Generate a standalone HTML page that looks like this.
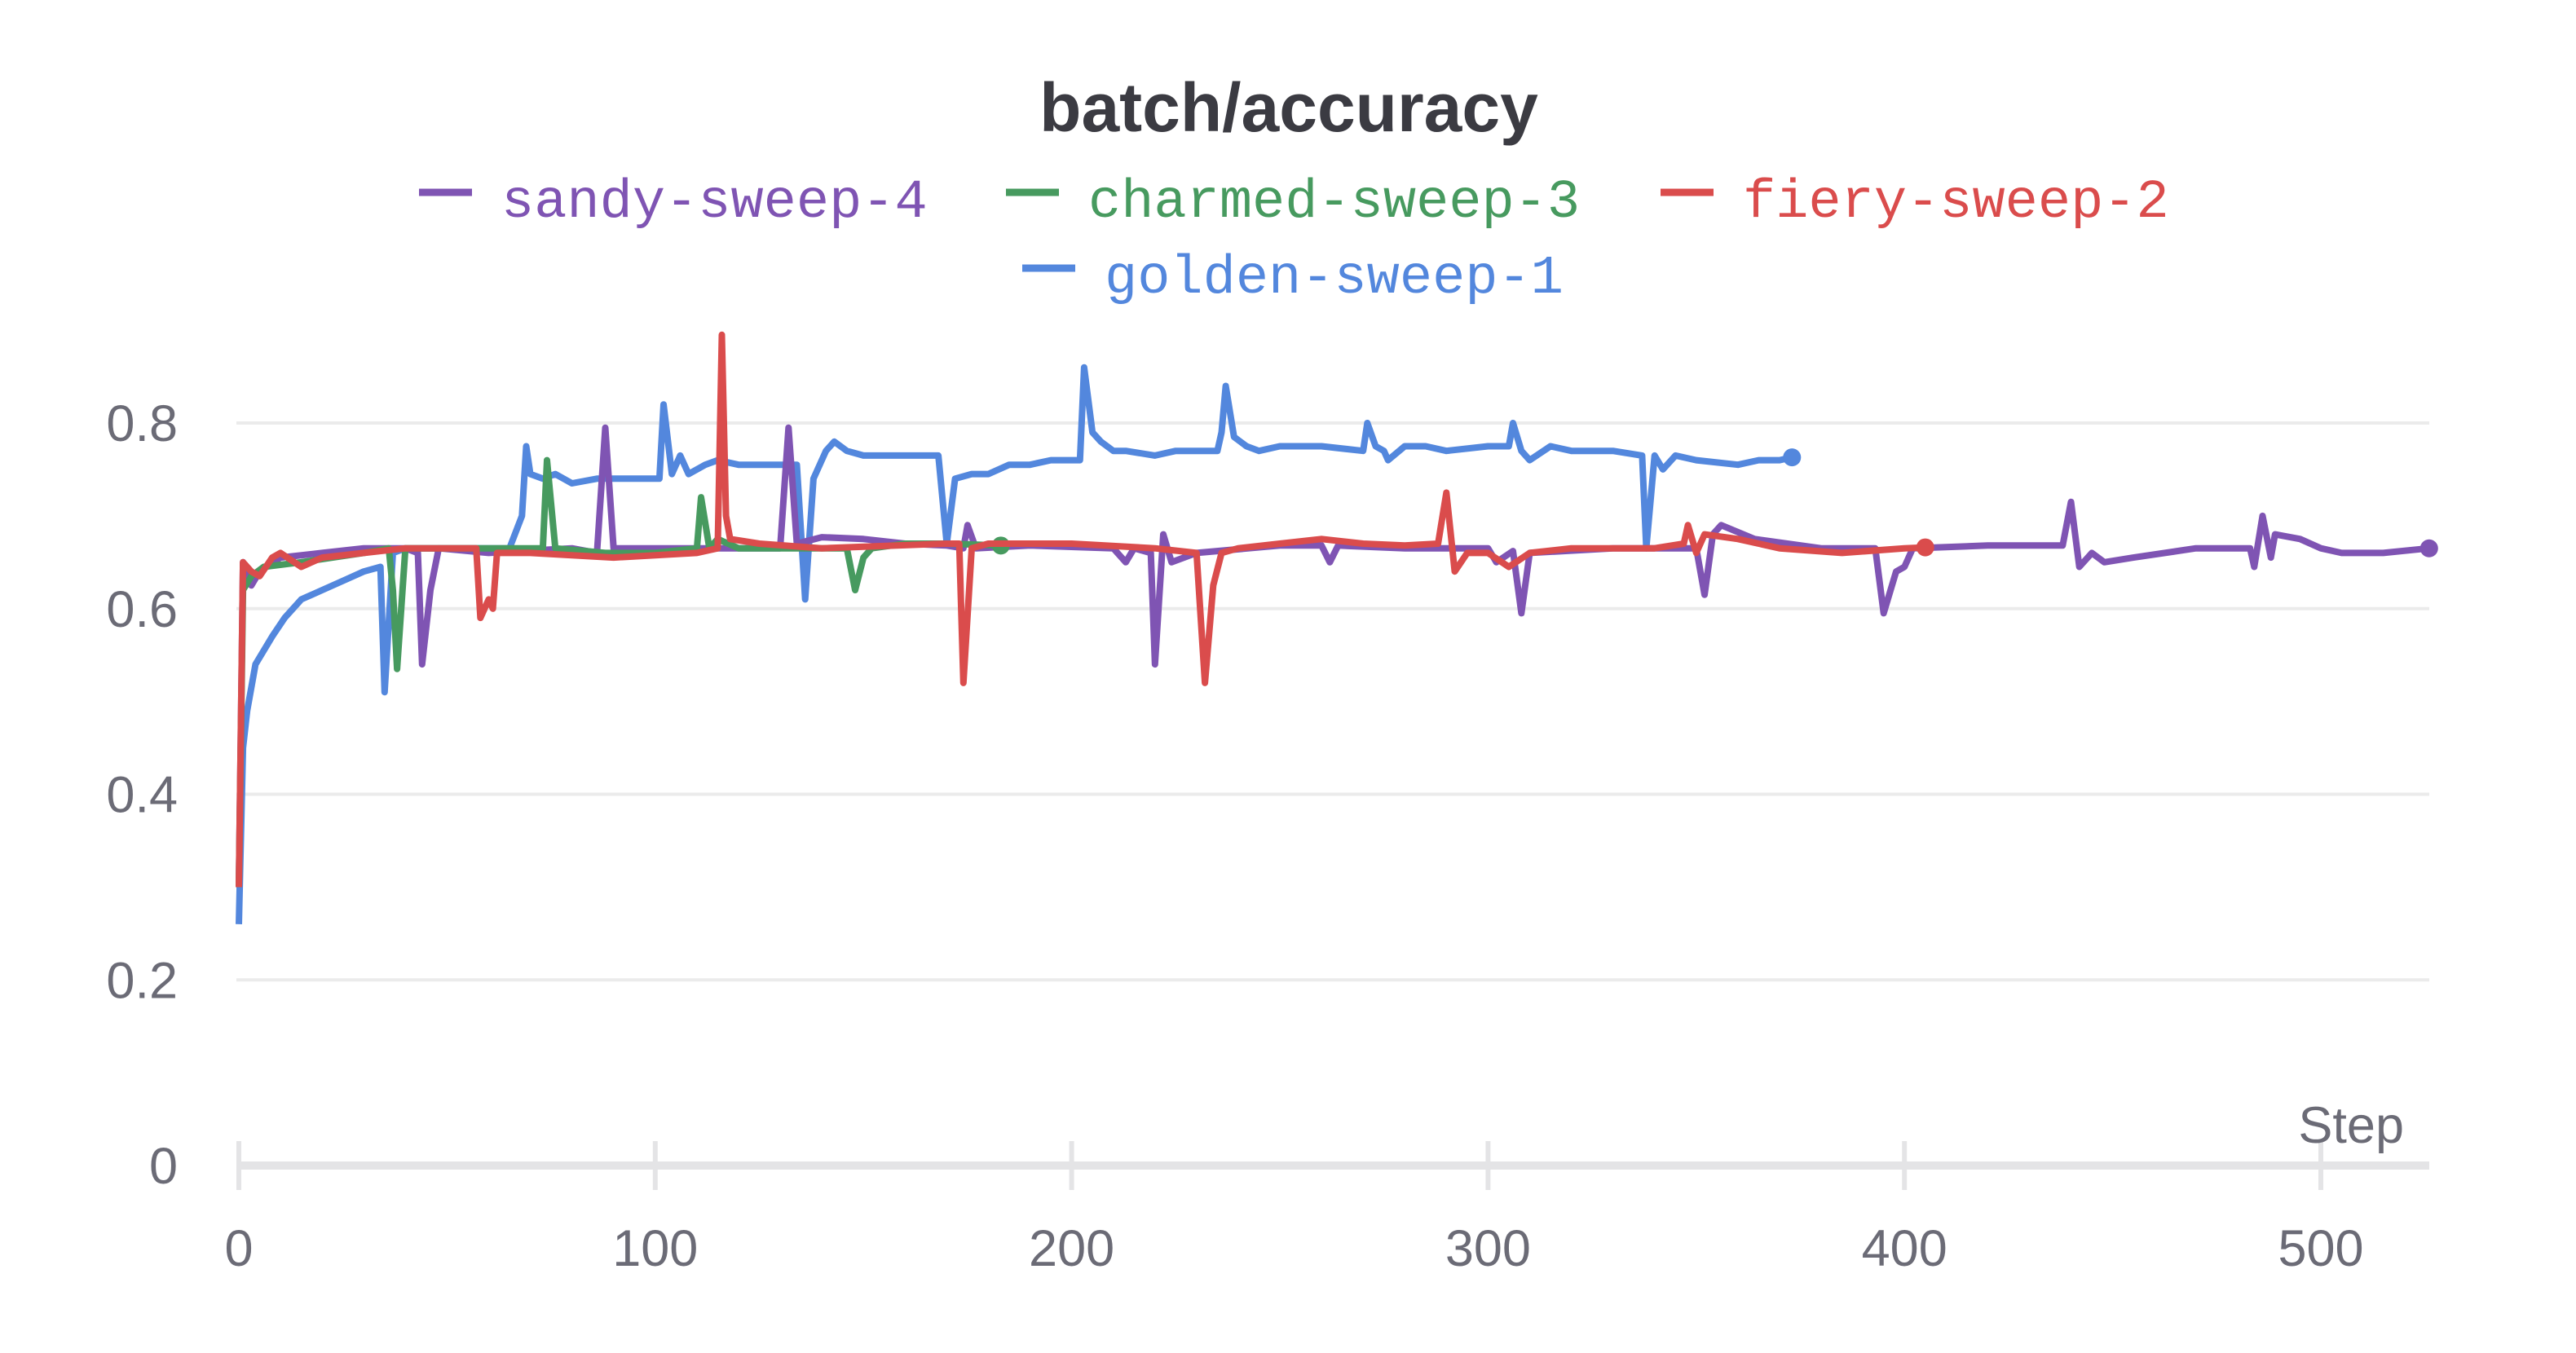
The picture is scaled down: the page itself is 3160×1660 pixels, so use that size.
<!DOCTYPE html>
<html><head><meta charset="utf-8"><style>
html,body{margin:0;padding:0;background:#fff;}
svg{display:block;}
text{font-family:"Liberation Sans",sans-serif;}
</style></head><body>
<svg id="chart" width="3160" height="1660" viewBox="0 0 3160 1660" xmlns="http://www.w3.org/2000/svg">
<text x="1581" y="161" text-anchor="middle" font-size="84" font-weight="bold" fill="#3b3b42">batch/accuracy</text>
<g font-family="Liberation Mono, monospace" font-size="67">
 <g><line x1="514" y1="236" x2="579" y2="236" stroke="#7f54b3" stroke-width="9"/><text x="615" y="266" fill="#7f54b3" style="font-family:'Liberation Mono',monospace">sandy-sweep-4</text></g>
 <g><line x1="1234" y1="236" x2="1299" y2="236" stroke="#479a5f" stroke-width="9"/><text x="1335" y="266" fill="#479a5f" style="font-family:'Liberation Mono',monospace">charmed-sweep-3</text></g>
 <g><line x1="2037" y1="236" x2="2102" y2="236" stroke="#da4c4c" stroke-width="9"/><text x="2138" y="266" fill="#da4c4c" style="font-family:'Liberation Mono',monospace">fiery-sweep-2</text></g>
 <g><line x1="1254" y1="329" x2="1319" y2="329" stroke="#5387dd" stroke-width="9"/><text x="1355" y="359" fill="#5387dd" style="font-family:'Liberation Mono',monospace">golden-sweep-1</text></g>
</g>
<g id="grid"></g>
<g id="axes"></g>
<g id="series"></g>
</svg>
<script>
const yTicks=[0,0.2,0.4,0.6,0.8];
const yTickLabels=["0","0.2","0.4","0.6","0.8"];
const xTicks=[0,100,200,300,400,500];
const xTickLabels=["0","100","200","300","400","500"];
const sandySteps=[0,1,3,5,10,20,30,40,43,44,46,48,60,80,86,88,90,100,120,130,132,134,140,150,160,170,174,175,177,190,210,213,215,219,220,222,224,230,250,260,262,264,280,300,302,306,308,310,330,350,352,354,356,364,380,393,395,398,400,402,420,438,440,442,445,448,455,470,483,484,486,488,489,495,500,505,515,526];
const sandyVals=[0.3,0.65,0.625,0.64,0.655,0.66,0.665,0.665,0.66,0.54,0.62,0.665,0.66,0.665,0.66,0.795,0.665,0.665,0.665,0.665,0.795,0.67,0.677,0.675,0.67,0.668,0.665,0.69,0.665,0.668,0.665,0.65,0.665,0.66,0.54,0.68,0.65,0.66,0.668,0.668,0.65,0.668,0.665,0.665,0.65,0.662,0.595,0.66,0.665,0.665,0.615,0.68,0.69,0.675,0.665,0.665,0.595,0.64,0.645,0.665,0.668,0.668,0.715,0.645,0.66,0.65,0.655,0.665,0.665,0.645,0.70,0.655,0.68,0.675,0.665,0.66,0.66,0.665];
const charmedSteps=[0,1,3,6,15,30,36,37,38,40,65,73,74,76,88,100,110,111,113,115,120,146,148,150,152,160,170,183];
const charmedVals=[0.3,0.62,0.635,0.645,0.65,0.66,0.665,0.62,0.535,0.665,0.665,0.665,0.76,0.665,0.66,0.66,0.665,0.72,0.665,0.675,0.665,0.665,0.62,0.655,0.665,0.67,0.67,0.668];
const fierySteps=[0,1,3,5,8,10,15,20,30,40,57,58,60,61,62,70,90,110,115,116,117,118,125,140,170,173,174,176,180,200,220,230,232,234,236,240,250,260,270,280,288,290,292,295,300,305,310,320,340,347,348,350,352,360,370,385,400,405];
const fieryVals=[0.3,0.65,0.64,0.635,0.655,0.66,0.645,0.655,0.66,0.665,0.665,0.59,0.61,0.6,0.66,0.66,0.655,0.66,0.665,0.895,0.70,0.675,0.67,0.665,0.67,0.67,0.52,0.665,0.67,0.67,0.665,0.66,0.52,0.625,0.66,0.665,0.67,0.675,0.67,0.668,0.67,0.725,0.64,0.66,0.66,0.645,0.66,0.665,0.665,0.67,0.69,0.66,0.68,0.675,0.665,0.66,0.665,0.666];
const goldenSteps=[0,1,2,4,8,11,15,20,25,30,34,35,37,40,65,68,69,70,73,76,80,86,96,101,102,104,106,108,112,115,120,130,134,136,138,141,143,146,150,160,168,170,172,176,180,185,190,195,200,202,203,205,207,210,213,220,225,230,235,236,237,239,242,245,250,260,270,271,273,275,276,280,285,290,300,305,306,308,310,315,320,330,337,338,340,342,345,350,360,365,370,373];
const goldenVals=[0.26,0.45,0.49,0.54,0.57,0.59,0.61,0.62,0.63,0.64,0.645,0.51,0.66,0.665,0.665,0.70,0.775,0.745,0.74,0.745,0.735,0.74,0.74,0.74,0.82,0.745,0.765,0.745,0.755,0.76,0.755,0.755,0.755,0.61,0.74,0.77,0.78,0.77,0.765,0.765,0.765,0.67,0.74,0.745,0.745,0.755,0.755,0.76,0.76,0.76,0.86,0.79,0.78,0.77,0.77,0.765,0.77,0.77,0.77,0.79,0.84,0.785,0.775,0.77,0.775,0.775,0.77,0.80,0.775,0.77,0.76,0.775,0.775,0.77,0.775,0.775,0.80,0.77,0.76,0.775,0.77,0.77,0.765,0.665,0.765,0.75,0.765,0.76,0.755,0.76,0.76,0.763];

const NS="http://www.w3.org/2000/svg";
const X0=293,X500=2847,XEND=2980,Y0=1430,Y08=519;
function xs(s){return X0+(X500-X0)*s/500;}
function ys(v){return Y0-(Y0-Y08)*v/0.8;}
function mk(tag,attrs,parent){const e=document.createElementNS(NS,tag);for(const k in attrs)e.setAttribute(k,attrs[k]);parent.appendChild(e);return e;}
const grid=document.getElementById('grid'),axes=document.getElementById('axes'),series=document.getElementById('series');
yTicks.forEach((v,i)=>{
  if(v>0){const g=mk('line',{x1:290,x2:XEND,y1:ys(v),y2:ys(v),stroke:'#ebebeb','stroke-width':4},grid);
  
  }
  const t=mk('text',{x:218,y:ys(v)+22,'text-anchor':'end','font-size':63,fill:'#6b6b76'},axes);
  t.textContent=yTickLabels[i];
  
  
});
const ax=mk('line',{x1:290,x2:XEND,y1:Y0,y2:Y0,stroke:'#e4e4e6','stroke-width':10},axes);


xTicks.forEach((s,i)=>{
  const tk=mk('line',{x1:xs(s),x2:xs(s),y1:1400,y2:1460,stroke:'#e4e4e6','stroke-width':6},axes);
  
  
  const t=mk('text',{x:xs(s),y:1553,'text-anchor':'middle','font-size':63,fill:'#6b6b76'},axes);
  t.textContent=xTickLabels[i];
  
  
});
const st=mk('text',{x:2949,y:1402,'text-anchor':'end','font-size':63,fill:'#6b6b76'},axes);
st.textContent='Step';


function draw(steps,vals,color,name){
  const d=steps.map((s,i)=>(i?'L':'M')+xs(s).toFixed(1)+' '+ys(vals[i]).toFixed(1)).join(' ');
  const p=mk('path',{d:d,fill:'none',stroke:color,'stroke-width':8,'stroke-linejoin':'round'},series);
  
  
  const n=steps.length-1;
  const c=mk('circle',{cx:xs(steps[n]),cy:ys(vals[n]),r:11,fill:color},series);
  
  
}
draw(goldenSteps,goldenVals,'#5387dd','golden-sweep-1');
draw(sandySteps,sandyVals,'#7f54b3','sandy-sweep-4');
draw(charmedSteps,charmedVals,'#479a5f','charmed-sweep-3');
draw(fierySteps,fieryVals,'#da4c4c','fiery-sweep-2');
</script>
</body></html>
